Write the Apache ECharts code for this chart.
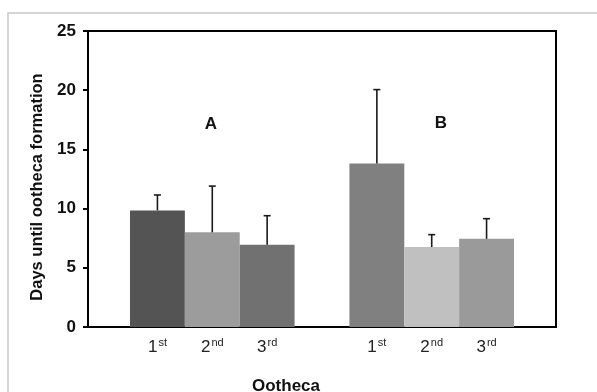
<!DOCTYPE html>
<html>
<head>
<meta charset="utf-8">
<script src="https://cdn.jsdelivr.net/npm/echarts@6/dist/echarts.min.js"></script>
<style>
  html, body { margin: 0; padding: 0; background: #fff; }
  #chart { width: 597px; height: 392px; }
</style>
</head>
<body>
<div id="chart"></div>
<script>
// ootheca rank within each group
const ranks = ['1st', '2nd', '3rd'];
const groups = ['A', 'B'];
// mean days until ootheca formation
const meanA = [9.85, 8.0, 6.95];
const meanB = [13.8, 6.75, 7.45];
// upper error (SD)
const errA = [1.3, 3.9, 2.45];
const errB = [6.25, 1.05, 1.7];
const yTicks = [0, 5, 10, 15, 20, 25];

const colorsA = ['#545454', '#9c9c9c', '#717171'];
const colorsB = ['#808080', '#c0c0c0', '#9a9a9a'];

// one empty slot between the two groups
const cats = ranks.concat([''], ranks);
const means = meanA.concat([null], meanB);
const errs = errA.concat([null], errB);
const colors = colorsA.concat([null], colorsB);

const barData = means.map((v, i) => {
  if (v === null) return '-';
  return {value: v, itemStyle: {color: colors[i]}};
});
const errData = [];
means.forEach((v, i) => {
  if (v !== null) errData.push([i, v, v + errs[i]]);
});

const font = '"Liberation Sans", Arial, sans-serif';

const myChart = echarts.init(document.getElementById('chart'));
const option = {
  animation: false,
  grid: [
    {left: 88, right: 41, top: 31, bottom: 65, show: true, borderColor: '#000', borderWidth: 2, backgroundColor: 'transparent'},
    {left: 130, right: 83, top: 31, bottom: 65}
  ],
  xAxis: [
    {type: 'category', gridIndex: 0, show: false, data: ['']},
    {
      type: 'category', gridIndex: 1, data: cats,
      axisLine: {show: false}, axisTick: {show: false},
      axisLabel: {
        interval: 0,
        margin: 10,
        formatter: (v) => v ? '{n|' + v[0] + '}{sup|' + v.slice(1) + '}' : '',
        rich: {
          n: {fontFamily: font, fontSize: 17, color: '#222', lineHeight: 19, verticalAlign: 'bottom'},
          sup: {fontFamily: font, fontSize: 11, color: '#222', lineHeight: 19, verticalAlign: 'top', padding: [0, 0, 0, 1]}
        }
      }
    }
  ],
  yAxis: [
    {
      type: 'value', gridIndex: 0, min: yTicks[0], max: yTicks[yTicks.length - 1], interval: 5,
      axisLine: {show: true, lineStyle: {color: '#000', width: 2}},
      axisTick: {show: true, inside: false, length: 5, lineStyle: {color: '#000', width: 2}},
      axisLabel: {margin: 12, fontFamily: font, fontSize: 17, fontWeight: 'bold', color: '#111'},
      splitLine: {show: false}
    },
    {type: 'value', gridIndex: 1, min: 0, max: 25, show: false}
  ],
  series: [
    {
      type: 'bar', xAxisIndex: 1, yAxisIndex: 1,
      barCategoryGap: '0%',
      data: barData,
      z: 3
    },
    {
      type: 'custom', xAxisIndex: 1, yAxisIndex: 1,
      data: errData,
      z: 4,
      renderItem: (params, api) => {
        const base = api.coord([api.value(0), api.value(1)]);
        const top = api.coord([api.value(0), api.value(2)]);
        const style = {stroke: '#1a1a1a', lineWidth: 1.6};
        return {
          type: 'group',
          children: [
            {type: 'line', shape: {x1: base[0], y1: base[1], x2: top[0], y2: top[1]}, style: style},
            {type: 'line', shape: {x1: top[0] - 3.5, y1: top[1], x2: top[0] + 3.5, y2: top[1]}, style: style}
          ]
        };
      }
    }
  ],
  graphic: [
    {type: 'rect', shape: {x: 8, y: 13, width: 700, height: 500}, style: {fill: 'none', stroke: '#c8c8c8', lineWidth: 1.5}, silent: true},
    {type: 'text', x: 211, y: 124, style: {text: groups[0], font: 'bold 17px ' + font, fill: '#111', align: 'center', verticalAlign: 'middle'}},
    {type: 'text', x: 441, y: 123, style: {text: groups[1], font: 'bold 17px ' + font, fill: '#111', align: 'center', verticalAlign: 'middle'}},
    {type: 'text', x: 286, y: 386, style: {text: 'Ootheca', font: 'bold 17px ' + font, fill: '#111', align: 'center', verticalAlign: 'middle'}},
    {type: 'text', x: 37, y: 187, rotation: Math.PI / 2, style: {text: 'Days until ootheca formation', font: 'bold 16.5px ' + font, fill: '#111', align: 'center', verticalAlign: 'middle'}}
  ]
};

myChart.setOption(option);
</script>
</body>
</html>
